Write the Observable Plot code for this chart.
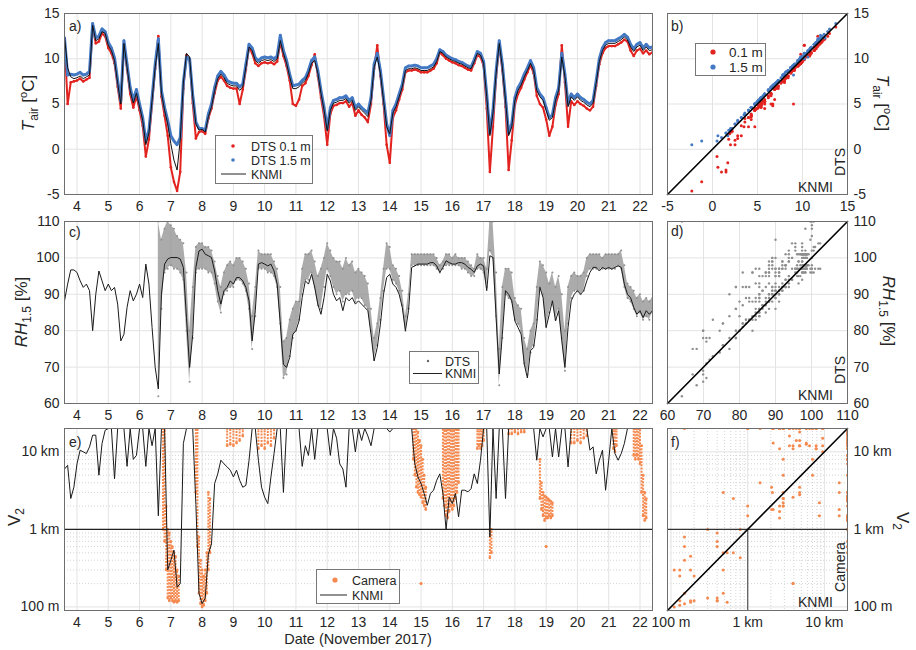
<!DOCTYPE html>
<html><head><meta charset="utf-8">
<script src="https://cdn.jsdelivr.net/npm/d3@7"></script>
<script src="https://cdn.jsdelivr.net/npm/@observablehq/plot@0.6"></script>
<style>
body{margin:0;background:#fff;}
#root{position:relative;width:916px;height:650px;overflow:hidden;font-family:"Liberation Sans",Arial,sans-serif;}
#root svg{position:absolute;}
</style></head><body><div id="root"></div>
<script>
// ---------- sampling grid (days of November 2017) ----------
const t0 = 3.6, dt = 0.1;
const dayDomain = [3.6, 22.4];
const dayTicks = [4,5,6,7,8,9,10,11,12,13,14,15,16,17,18,19,20,21,22];

// ---------- a/b) air temperature [°C] ----------
const tempRange = [-5, 15];
const tempTicks = [-5, 0, 5, 10, 15];
const knmiT = [
 12.5, 9.0, 8.0, 7.8, 7.9, 8.1, 7.8, 8.0, 8.2, 13.7,
 12.0, 12.2, 13.0, 12.8, 11.5, 10.9, 9.8, 7.3, 5.0, 11.7,
 9.1, 6.5, 5.1, 6.2, 4.7, 3.2, 0.5, 1.8, 5.4, 9.1,
 11.7, 6.2, 4.3, 2.8, 0.6, -1.2, -2.3, 1.0, 7.3, 10.6,
 10.2, 5.8, 2.8, 2.1, 2.2, 1.9, 3.6, 4.7, 6.5, 7.8,
 8.3, 7.9, 7.3, 7.1, 7.0, 7.0, 6.5, 6.9, 9.1, 11.3,
 10.9, 9.8, 9.5, 9.8, 9.9, 9.8, 9.9, 9.7, 10.0, 12.0,
 10.6, 9.5, 8.0, 6.7, 6.7, 6.9, 7.3, 7.6, 8.4, 9.5,
 9.8, 8.4, 6.2, 4.3, 2.0, 4.3, 5.1, 5.2, 5.4, 5.4,
 5.6, 5.1, 5.4, 4.3, 4.7, 4.3, 4.0, 3.6, 5.4, 9.1,
 10.2, 8.4, 5.4, 2.5, 1.7, 4.0, 4.7, 5.8, 6.9, 8.7,
 8.9, 8.9, 9.0, 8.9, 8.7, 8.7, 8.7, 8.9, 9.1, 9.7,
 10.8, 10.6, 10.2, 10.0, 9.8, 9.7, 9.5, 9.4, 9.2, 9.0,
 8.9, 9.7, 10.6, 10.4, 9.5, 5.8, 1.5, 4.0, 8.4, 11.7,
 9.1, 5.4, 1.5, 2.5, 5.4, 6.5, 7.1, 8.0, 8.7, 9.5,
 8.7, 6.5, 5.8, 5.4, 4.3, 3.2, 3.5, 5.4, 6.5, 10.2,
 8.0, 4.7, 5.8, 5.4, 5.8, 5.4, 5.2, 4.9, 4.7, 5.1,
 7.3, 9.7, 10.9, 11.5, 11.7, 11.7, 11.7, 11.9, 12.1, 12.4,
 12.1, 11.3, 10.8, 11.3, 11.5, 10.9, 11.3, 10.9, 11.0];
const dts15T = [
 12.3, 8.2, 8.3, 8.2, 8.3, 8.5, 8.2, 8.3, 8.6, 13.9,
 12.3, 12.5, 13.3, 13.0, 11.8, 11.2, 10.1, 7.6, 5.3, 12.0,
 9.4, 6.8, 5.4, 6.6, 5.0, 3.5, 0.9, 2.1, 5.7, 9.4,
 12.2, 6.5, 4.6, 3.2, 1.5, 0.9, 0.5, 1.3, 7.4, 10.2,
 10.0, 6.0, 3.0, 2.3, 2.3, 2.1, 3.9, 5.0, 6.8, 8.1,
 8.6, 8.2, 7.6, 7.4, 7.3, 7.3, 6.9, 7.2, 9.4, 11.6,
 11.2, 10.1, 9.8, 10.1, 10.2, 10.1, 10.2, 10.0, 10.3, 12.6,
 10.9, 9.8, 8.3, 7.0, 7.1, 7.2, 7.6, 7.9, 8.7, 9.8,
 10.2, 8.7, 6.5, 4.6, 2.3, 4.6, 5.4, 5.5, 5.7, 5.7,
 5.9, 5.4, 5.7, 4.6, 5.0, 4.6, 4.3, 4.0, 5.7, 9.4,
 10.6, 8.7, 5.7, 2.8, 1.5, 4.3, 5.0, 6.1, 7.2, 9.0,
 9.2, 9.2, 9.3, 9.2, 9.0, 9.0, 9.0, 9.2, 9.4, 10.0,
 11.0, 10.8, 10.4, 10.2, 10.0, 9.9, 9.7, 9.6, 9.4, 9.2,
 9.1, 9.9, 10.8, 10.6, 9.7, 6.1, 1.8, 4.3, 8.7, 12.0,
 9.4, 5.7, 1.8, 2.8, 5.7, 6.8, 7.4, 8.3, 9.0, 9.8,
 9.0, 6.8, 6.1, 5.7, 4.6, 3.5, 3.8, 5.7, 6.8, 10.6,
 8.3, 5.0, 6.1, 5.7, 6.1, 5.7, 5.5, 5.2, 5.0, 5.4,
 7.6, 10.0, 11.2, 11.8, 12.0, 12.0, 12.0, 12.2, 12.4, 12.7,
 12.4, 11.6, 11.1, 11.6, 11.8, 11.2, 11.6, 11.2, 11.3];
const dts01T = [
 12.2, 5.0, 7.4, 7.5, 7.6, 7.8, 7.5, 7.7, 7.9, 13.5,
 11.7, 11.9, 12.8, 12.5, 11.2, 10.6, 9.5, 6.9, 4.5, 11.6,
 8.8, 6.1, 4.6, 5.9, 4.3, 2.6, -0.8, 1.1, 5.0, 8.9,
 12.5, 5.8, 3.7, 1.5, -2.0, -3.6, -4.6, -2.5, 6.7, 10.4,
 9.9, 5.1, 1.2, 1.9, 2.0, 1.7, 3.4, 4.5, 6.2, 7.6,
 8.0, 7.6, 7.0, 6.8, 6.7, 6.7, 5.0, 6.6, 8.8, 11.3,
 10.6, 9.5, 9.2, 9.5, 9.6, 9.5, 9.6, 9.4, 9.7, 11.8,
 10.3, 9.2, 7.6, 5.0, 4.8, 5.5, 7.0, 7.3, 8.1, 9.3,
 10.5, 8.1, 5.7, 3.6, 0.5, 3.9, 4.8, 4.9, 5.1, 5.1,
 5.3, 4.7, 5.1, 3.7, 4.3, 3.8, 3.5, 3.0, 5.0, 8.9,
 11.5, 8.1, 5.0, 0.5, -1.5, 3.5, 4.3, 5.5, 6.6, 8.5,
 8.7, 8.7, 8.8, 8.7, 8.5, 8.5, 8.5, 8.7, 8.9, 9.5,
 10.7, 10.4, 10.0, 9.8, 9.6, 9.5, 9.3, 9.2, 9.0, 8.8,
 8.7, 9.5, 10.4, 10.2, 9.2, 4.5, -2.5, 2.5, 7.9, 11.5,
 8.7, 4.7, -2.3, 1.0, 4.9, 6.1, 6.8, 7.7, 8.5, 9.3,
 8.4, 5.9, 5.0, 4.6, 3.3, 1.5, 2.5, 4.9, 6.1, 11.5,
 7.4, 2.5, 5.3, 4.9, 5.3, 5.0, 4.8, 4.5, 4.3, 4.7,
 7.0, 9.4, 10.6, 11.2, 11.4, 11.4, 11.4, 11.6, 11.8, 12.1,
 11.9, 10.9, 10.3, 10.9, 11.1, 10.6, 10.9, 10.5, 10.7];

// ---------- c/d) relative humidity at 1.5 m [%] ----------
const rhRange = [60, 110];
const rhTicks = [60, 70, 80, 90, 100, 110];
const knmiRH = [
 88.2, 92.8, 96.7, 96.7, 96.0, 93.7, 91.9, 92.8, 91.0, 80.0,
 90.0, 96.4, 93.7, 91.0, 92.8, 91.0, 91.9, 87.3, 77.2, 79.0,
 86.4, 91.0, 88.2, 90.0, 92.8, 89.1, 98.3, 92.8, 80.9, 69.9,
 64.0, 90.0, 98.3, 99.7, 100.1, 100.1, 100.1, 99.7, 97.4, 83.6,
 69.9, 79.0, 97.4, 101.9, 102.4, 101.0, 100.6, 100.1, 96.4, 91.0,
 87.3, 91.0, 91.9, 93.7, 92.8, 94.6, 94.6, 93.7, 91.9, 88.2,
 77.2, 85.5, 98.3, 98.7, 98.3, 97.8, 98.3, 96.4, 92.8, 81.8,
 70.8, 69.9, 72.6, 79.0, 80.0, 82.7, 89.1, 93.7, 92.8, 95.5,
 91.9, 87.3, 84.5, 89.1, 95.5, 93.7, 90.0, 88.2, 89.1, 85.5,
 89.1, 88.2, 89.1, 87.3, 88.2, 87.3, 86.4, 85.5, 79.0, 71.7,
 75.4, 81.8, 90.0, 94.6, 95.5, 92.8, 91.9, 90.0, 86.4, 80.0,
 85.5, 97.4, 97.8, 98.3, 98.3, 98.3, 98.3, 98.7, 98.7, 97.8,
 96.0, 97.4, 99.2, 98.7, 98.3, 98.3, 98.7, 98.7, 98.3, 97.4,
 96.9, 96.0, 97.8, 98.3, 97.8, 91.0, 100.6, 100.1, 83.6, 68.1,
 79.0, 91.0, 90.0, 88.2, 82.7, 80.9, 79.0, 70.8, 67.0, 74.5,
 75.4, 81.8, 91.9, 89.1, 80.9, 84.5, 88.2, 82.7, 85.5, 77.2,
 69.9, 80.9, 88.2, 90.0, 91.0, 90.0, 91.0, 93.7, 96.0, 97.4,
 97.4, 96.4, 97.4, 96.9, 97.4, 96.9, 97.4, 97.8, 97.4, 92.8,
 90.0, 89.1, 86.4, 84.5, 85.5, 83.6, 85.5, 84.5, 85.5];
const dtsRHstart = 6.6;   // DTS humidity starts here
const dtsRHlo = [
 62, 86, 96, 97, 98, 97, 97, 96, 94, 80,
 66, 78, 96, 97, 97, 97, 96, 96, 93, 88,
 85, 90, 91, 92, 92, 94, 94, 93, 91, 86,
 75, 84, 97, 97, 97, 96, 96, 95, 92, 82,
 67, 68, 73, 78, 80, 83, 90, 94, 94, 96,
 92, 87, 86, 92, 97, 95, 92, 90, 91, 88,
 90, 90, 91, 88, 89, 89, 87, 86, 80, 72,
 76, 83, 91, 97, 97, 94, 93, 91, 87, 80,
 86, 98, 98, 98, 98, 98, 98, 98, 98, 97,
 96, 97, 98, 98, 98, 98, 98, 97, 97, 96,
 95, 95, 97, 97, 96, 92, 102, 100, 84, 65,
 78, 90, 89, 88, 83, 82, 80, 71, 68, 74,
 76, 83, 92, 90, 81, 85, 88, 83, 86, 78,
 69, 82, 89, 91, 91, 90, 91, 95, 97, 97,
 97, 97, 97, 97, 97, 97, 97, 98, 97, 92,
 89, 88, 86, 84, 85, 83, 84, 83, 85];
const dtsRHhi = [
 110, 105, 108, 110, 109, 108, 106, 105, 104, 96,
 80, 92, 103, 104, 104, 103, 103, 102, 99, 95,
 92, 96, 98, 99, 98, 100, 100, 99, 97, 93,
 84, 92, 102, 101, 101, 101, 101, 99, 97, 92,
 77, 78, 83, 86, 88, 88, 97, 101, 101, 102,
 99, 95, 97, 100, 104, 102, 100, 99, 99, 97,
 100, 98, 99, 96, 97, 96, 95, 93, 86, 78,
 82, 89, 97, 104, 103, 98, 97, 95, 91, 84,
 90, 101, 101, 101, 101, 101, 101, 101, 101, 100,
 98, 99, 101, 101, 100, 101, 100, 100, 100, 99,
 98, 97, 101, 100, 100, 97, 110, 110, 96, 75,
 92, 97, 97, 96, 89, 87, 86, 78, 75, 80,
 82, 92, 99, 98, 96, 93, 96, 92, 95, 90,
 80, 92, 95, 96, 95, 95, 96, 100, 101, 101,
 101, 101, 100, 101, 101, 101, 101, 101, 102, 98,
 93, 92, 91, 89, 90, 88, 89, 88, 89];

// ---------- e/f) visibility V2 [m] ----------
const visRange = [90, 20000];
const visTicks = [100, 1000, 10000];
const visTickLabels = ["100 m", "1 km", "10 km"];
const visMinor = [200,300,400,500,600,700,800,900,2000,3000,4000,5000,6000,7000,8000,9000,20000];
const visThreshold = 1000;
const knmiV = [
 6000, 6700, 2500, 3500, 7000, 10500, 10000, 9500, 11600, 16400,
 16400, 5000, 12800, 19000, 20000, 20000, 4500, 20000, 20000, 20000,
 6500, 20000, 8000, 9000, 20000, 20000, 6500, 20000, 12000, 20000,
 1500, 20000, 20000, 300, 400, 540, 180, 200, 12800, 20000,
 20000, 20000, 2100, 150, 110, 130, 480, 650, 3900, 5200,
 7800, 7000, 6400, 5800, 4750, 5800, 4300, 3500, 3700, 7800,
 20000, 20000, 7800, 3500, 2600, 2150, 4750, 9500, 20000, 20000,
 3000, 20000, 20000, 20000, 20000, 20000, 6500, 12000, 9000, 20000,
 8000, 20000, 20000, 20000, 20000, 9000, 20000, 15000, 7000, 6000,
 3500, 20000, 20000, 10000, 20000, 14000, 20000, 16000, 12000, 20000,
 20000, 20000, 20000, 20000, 18000, 20000, 20000, 20000, 20000, 20000,
 20000, 20000, 7000, 4750, 3900, 2900, 2050, 2900, 3200, 4300,
 5200, 2900, 1000, 2600, 2150, 2900, 1450, 3200, 3200, 3050,
 3350, 5200, 3900, 7800, 20000, 20000, 800, 20000, 2500, 20000,
 20000, 2500, 20000, 20000, 20000, 20000, 20000, 20000, 20000, 20000,
 20000, 7800, 20000, 15600, 20000, 20000, 8600, 20000, 8600, 20000,
 20000, 6400, 20000, 20000, 20000, 20000, 20000, 20000, 10500, 11600,
 5200, 7800, 10500, 3200, 7800, 20000, 9500, 7800, 9500, 12800,
 20000, 20000, 20000, 20000, 20000, 20000, 20000, 20000, 20000];
// camera visibility: time, lower and upper edge of the point cloud
const camT = [6.75,6.8,6.85,6.9,6.95,7.0,7.05,7.1,7.15,7.2,7.25,
 7.8,7.85,7.9,7.95,8.0,8.05,8.1,8.15,8.2,8.25,
 8.8,8.9,9.0,9.1,9.2,9.3, 9.8,9.9,10.0,10.1,10.2,10.3,
 14.75,14.8,14.85,14.9,14.95,15.0,15.0,15.05,15.1,15.15,
 15.7,15.75,15.8,15.85,15.9,15.95,16.0,16.05,16.1,16.15,16.2,
 16.8,16.85,16.9,16.95,17.0, 17.2,17.25,
 17.8,17.9,18.0,18.1,18.2,18.3,
 18.8,18.85,18.9,18.95,19.0,19.0,19.05,19.1,19.15,19.2,
 19.8,19.9,20.0,20.1,20.2,20.3, 21.15,21.2,21.25,
 21.8,21.85,21.9,21.95,22.0,22.05,22.1,22.15,22.2];
const camLo = [1000,700,300,130,120,130,120,115,120,115,120,
 3000,600,150,110,100,105,120,150,300,500,
 12000,12500,12000,13000,14000,16000, 11000,12000,11000,13000,12000,15000,
 8000,5000,3500,3000,2800,2600,200,2200,2000,1800,
 2500,2000,1500,1400,1700,2000,1800,2000,2500,3000,4000,
 11000,12000,11000,12000,14000, 430,500,
 17000,17000,18000,17000,18000,18000,
 2500,1800,1500,1300,1400,600,1400,1500,1400,1500,
 13000,13000,14000,13000,15000,16000, 11000,10000,12000,
 9000,8000,9000,8000,7000,3000,1500,1300,1400];
const camHi = [20000,20000,2000,1000,900,700,600,500,450,300,250,
 20000,20000,800,400,300,250,300,500,3000,2500,
 20000,20000,20000,20000,20000,20000, 20000,20000,20000,20000,20000,20000,
 20000,20000,20000,18000,14000,12000,200,8000,5000,3500,
 20000,20000,20000,20000,20000,20000,20000,20000,20000,20000,20000,
 20000,20000,20000,20000,20000, 1000,1000,
 20000,20000,20000,20000,20000,20000,
 8000,4000,3000,2700,2600,600,2500,2400,2300,2200,
 20000,20000,20000,20000,20000,20000, 20000,20000,20000,
 20000,20000,20000,20000,20000,12000,5000,3000,2500];

// ---------- colours & fonts ----------
const RED = "#e2231f", BLUE = "#4479c4", GRAY = "#8f8f8f", ORANGE = "#f58a50";
const FONT = '"Liberation Sans", Arial, sans-serif';
const GRID = "#e3e3e3", FRAME = "#6e6e6e";

// ---------- tables ----------
const tAt = i => +(t0 + i * dt).toFixed(2);
const idxAt = t => Math.round((t - t0) / dt);
const tempRows = knmiT.map((v, i) => ({t: tAt(i), knmi: v, d15: dts15T[i], d01: dts01T[i]}));
const rhOff = idxAt(dtsRHstart);
const rhRows = knmiRH.map((v, i) => ({t: tAt(i), knmi: v,
  lo: i >= rhOff ? dtsRHlo[i - rhOff] : null, hi: i >= rhOff ? dtsRHhi[i - rhOff] : null}));
const visRows = knmiV.map((v, i) => ({t: tAt(i), v}));
const camRows = camT.map((t, i) => ({t, lo: camLo[i], hi: camHi[i], knmi: knmiV[idxAt(t)]}));
const rhScatter = rhRows.filter(r => r.lo != null).flatMap(r => [{x: r.knmi, y: r.lo}, {x: r.knmi, y: r.hi}]);
const camScatter = camRows.flatMap(r => [{x: r.knmi, y: r.lo}, {x: r.knmi, y: r.hi}]);
const diag = rng => rng.map(v => ({x: v, y: v}));

const root = document.getElementById("root");
function panel({left, top, fw, fh, mL, mR, mT = 6, mB = 24, x, y, marks}) {
  const svg = Plot.plot({
    width: mL + fw + mR, height: mT + fh + mB,
    marginLeft: mL, marginRight: mR, marginTop: mT, marginBottom: mB,
    style: {fontFamily: FONT, fontSize: "14px", color: "#262626", background: "transparent", overflow: "visible"},
    x, y, marks
  });
  svg.style.left = (left - mL) + "px";
  svg.style.top = (top - mT) + "px";
  root.append(svg);
}
const str = d => String(d);
const visFmt = d => visTickLabels[visTicks.indexOf(d)];
const xAxisDays = Plot.axisX(dayTicks, {tickSize: 0, tickPadding: 7, label: null, tickFormat: str});

// a) temperature time series
panel({left: 64, top: 13, fw: 588, fh: 181, mL: 64, mR: 4,
  x: {domain: dayDomain}, y: {domain: tempRange},
  marks: [
    Plot.gridX(dayTicks, {stroke: GRID, strokeOpacity: 1}),
    Plot.gridY(tempTicks, {stroke: GRID, strokeOpacity: 1}),
    Plot.line(tempRows, {x: "t", y: "d01", stroke: RED, strokeWidth: 2, clip: true}),
    Plot.dot(tempRows, {x: "t", y: "d01", r: 1.3, fill: RED, clip: true}),
    Plot.line(tempRows, {x: "t", y: "d15", stroke: BLUE, strokeWidth: 3, clip: true}),
    Plot.dot(tempRows, {x: "t", y: "d15", r: 1.2, fill: BLUE, clip: true}),
    Plot.line(tempRows, {x: "t", y: "knmi", stroke: "#111", strokeWidth: 1, clip: true}),
    Plot.frame({stroke: FRAME}),
    xAxisDays,
    Plot.axisY(tempTicks, {tickSize: 0, tickPadding: 5, label: null, tickFormat: str})
  ]});

// b) temperature scatter
panel({left: 667, top: 13, fw: 180, fh: 181, mL: 4, mR: 45,
  x: {domain: tempRange}, y: {domain: tempRange},
  marks: [
    Plot.gridX(tempTicks, {stroke: GRID, strokeOpacity: 1}),
    Plot.gridY(tempTicks, {stroke: GRID, strokeOpacity: 1}),
    Plot.dot(tempRows, {x: "knmi", y: "d01", r: 1.5, fill: RED, clip: true}),
    Plot.dot(tempRows, {x: "knmi", y: "d15", r: 1.5, fill: BLUE, clip: true}),
    Plot.line(diag(tempRange), {x: "x", y: "y", stroke: "#000", strokeWidth: 1.6}),
    Plot.frame({stroke: FRAME}),
    Plot.axisX(tempTicks, {tickSize: 0, tickPadding: 7, label: null, tickFormat: str}),
    Plot.axisY(tempTicks, {anchor: "right", tickSize: 0, tickPadding: 6, label: null, tickFormat: str})
  ]});

// c) humidity time series
panel({left: 64, top: 221, fw: 588, fh: 182, mL: 64, mR: 4,
  x: {domain: dayDomain}, y: {domain: rhRange},
  marks: [
    Plot.gridX(dayTicks, {stroke: GRID, strokeOpacity: 1}),
    Plot.gridY(rhTicks, {stroke: GRID, strokeOpacity: 1}),
    Plot.areaY(rhRows, {x: "t", y1: "lo", y2: "hi", fill: GRAY, fillOpacity: 0.75, clip: true}),
    Plot.dot(rhRows, {x: "t", y: "lo", r: 1, fill: GRAY, clip: true}),
    Plot.dot(rhRows, {x: "t", y: "hi", r: 1, fill: GRAY, clip: true}),
    Plot.line(rhRows, {x: "t", y: "knmi", stroke: "#1a1a1a", strokeWidth: 1, clip: true}),
    Plot.frame({stroke: FRAME}),
    xAxisDays,
    Plot.axisY(rhTicks, {tickSize: 0, tickPadding: 5, label: null, tickFormat: str})
  ]});

// d) humidity scatter
panel({left: 667, top: 221, fw: 180, fh: 182, mL: 4, mR: 45,
  x: {domain: rhRange}, y: {domain: rhRange},
  marks: [
    Plot.gridX(rhTicks, {stroke: GRID, strokeOpacity: 1}),
    Plot.gridY(rhTicks, {stroke: GRID, strokeOpacity: 1}),
    Plot.dot(rhScatter, {x: "x", y: "y", r: 1.2, fill: GRAY, clip: true}),
    Plot.line(diag(rhRange), {x: "x", y: "y", stroke: "#000", strokeWidth: 1.6}),
    Plot.frame({stroke: FRAME}),
    Plot.axisX(rhTicks, {tickSize: 0, tickPadding: 7, label: null, tickFormat: str}),
    Plot.axisY(rhTicks, {anchor: "right", tickSize: 0, tickPadding: 6, label: null, tickFormat: str})
  ]});

// e) visibility time series
panel({left: 64, top: 428, fw: 588, fh: 182, mL: 64, mR: 4,
  x: {domain: dayDomain}, y: {type: "log", domain: visRange},
  marks: [
    Plot.gridX(dayTicks, {stroke: GRID, strokeOpacity: 1}),
    Plot.gridY(visMinor, {stroke: "#d4d4d4", strokeOpacity: 1, strokeDasharray: "1 2"}),
    Plot.gridY(visTicks, {stroke: GRID, strokeOpacity: 1}),
    Plot.ruleX(camRows, {x: "t", y1: "lo", y2: "hi", stroke: ORANGE, strokeWidth: 2, strokeDasharray: "2 1.2", clip: true}),
    Plot.dot(camRows, {x: "t", y: "lo", r: 1.4, fill: ORANGE, clip: true}),
    Plot.dot(camRows, {x: "t", y: "hi", r: 1.4, fill: ORANGE, clip: true}),
    Plot.line(visRows, {x: "t", y: "v", stroke: "#1a1a1a", strokeWidth: 1, clip: true}),
    Plot.ruleY([visThreshold], {stroke: "#222", strokeWidth: 1.2}),
    Plot.frame({stroke: FRAME}),
    xAxisDays,
    Plot.axisY(visTicks, {tickSize: 0, tickPadding: 5, label: null, tickFormat: visFmt})
  ]});

// f) visibility scatter
panel({left: 667, top: 428, fw: 180, fh: 182, mL: 4, mR: 45,
  x: {type: "log", domain: visRange}, y: {type: "log", domain: visRange},
  marks: [
    Plot.gridX(visMinor, {stroke: "#d4d4d4", strokeOpacity: 1, strokeDasharray: "1 2"}),
    Plot.gridY(visMinor, {stroke: "#d4d4d4", strokeOpacity: 1, strokeDasharray: "1 2"}),
    Plot.gridX(visTicks, {stroke: GRID, strokeOpacity: 1}),
    Plot.gridY(visTicks, {stroke: GRID, strokeOpacity: 1}),
    Plot.dot(camScatter, {x: "x", y: "y", r: 1.5, fill: ORANGE, clip: true}),
    Plot.ruleY([visThreshold], {stroke: "#333", strokeWidth: 1.2}),
    Plot.ruleX([{x: visThreshold, y1: visRange[0], y2: visThreshold}], {x: "x", y1: "y1", y2: "y2", stroke: "#555", strokeWidth: 1.2}),
    Plot.line(diag(visRange), {x: "x", y: "y", stroke: "#000", strokeWidth: 1.6}),
    Plot.frame({stroke: FRAME}),
    Plot.axisX(visTicks, {tickSize: 0, tickPadding: 7, label: null, tickFormat: visFmt}),
    Plot.axisY(visTicks, {anchor: "right", tickSize: 0, tickPadding: 6, label: null, tickFormat: visFmt})
  ]});

// ---------- overlay: titles, annotations, legends ----------
const ov = d3.select(root).append("svg").attr("width", 916).attr("height", 650)
  .style("left", "0px").style("top", "0px").style("pointer-events", "none")
  .attr("font-family", FONT).attr("fill", "#262626");

function rich(x, y, rot, parts, size, anchor = "middle") {
  const t = ov.append("text").attr("transform", `translate(${x},${y}) rotate(${rot})`)
    .attr("text-anchor", anchor).attr("font-size", size);
  parts.forEach(p => t.append("tspan").attr("font-style", p.it ? "italic" : null)
    .attr("font-size", p.fs || null).attr("dy", p.dy || 0).text(p.s));
}
const tLab = [{s: "T", it: true}, {s: "air", fs: 12, dy: 4}, {s: "\u00a0[", dy: -4}, {s: "o", fs: 11, dy: -7}, {s: "C]", dy: 7}];
const rhLab = [{s: "RH", it: true}, {s: "1.5", fs: 12, dy: 4}, {s: "\u00a0[%]", dy: -4}];
const vLab = [{s: "V"}, {s: "2", fs: 12, dy: 4}];
rich(34, 103, -90, tLab, 17);
rich(27, 312, -90, rhLab, 17);
rich(20, 517, -90, vLab, 17);
rich(877, 103, 90, tLab, 17);
rich(883, 311, 90, rhLab, 17);
rich(897, 521, 90, vLab, 17);
rich(358, 644, 0, [{s: "Date (November 2017)"}], 14.5);

[["a)", 69, 31], ["b)", 671, 31], ["c)", 69, 237], ["d)", 671, 236], ["e)", 69, 447], ["f)", 671, 447]]
  .forEach(([s, x, y]) => rich(x, y, 0, [{s}], 14, "start"));
[[192], [400], [607]].forEach(([y]) => rich(815.5, y, 0, [{s: "KNMI"}], 14));
rich(845, 162, -90, [{s: "DTS"}], 14);
rich(845, 370, -90, [{s: "DTS"}], 14);
rich(845, 567, -90, [{s: "Camera"}], 14);

function box(x, y, w, h) {
  ov.append("rect").attr("x", x + 0.5).attr("y", y + 0.5).attr("width", w).attr("height", h)
    .attr("fill", "#fff").attr("stroke", "#777");
}
const dotK = (x, y, r, c) => ov.append("circle").attr("cx", x).attr("cy", y).attr("r", r).attr("fill", c);
const lineK = (x1, x2, y, c) => ov.append("line").attr("x1", x1).attr("x2", x2).attr("y1", y).attr("y2", y).attr("stroke", c).attr("stroke-width", 1);
// legend a
box(215, 135, 97, 48);
dotK(233, 146, 1.8, RED); rich(251, 150.5, 0, [{s: "DTS 0.1 m"}], 12.5, "start");
dotK(233, 160, 1.8, BLUE); rich(251, 164.5, 0, [{s: "DTS 1.5 m"}], 12.5, "start");
lineK(221, 246, 174, "#222"); rich(251, 178.5, 0, [{s: "KNMI"}], 12.5, "start");
// legend b
box(695, 43, 70, 32);
dotK(713, 52, 2.6, RED); rich(729, 56.5, 0, [{s: "0.1 m"}], 13.5, "start");
dotK(713, 67, 2.6, BLUE); rich(729, 71.5, 0, [{s: "1.5 m"}], 13.5, "start");
// legend c
box(409, 351, 69, 32);
dotK(428, 361, 1.2, "#666"); rich(445, 365.5, 0, [{s: "DTS"}], 12.5, "start");
lineK(413, 442, 373.5, "#222"); rich(445, 378, 0, [{s: "KNMI"}], 12.5, "start");
// legend e
box(316, 569, 83, 34);
dotK(335, 580, 2.6, ORANGE); rich(352, 584.5, 0, [{s: "Camera"}], 12.5, "start");
lineK(320, 347, 595, "#222"); rich(352, 599.5, 0, [{s: "KNMI"}], 12.5, "start");
</script></body></html>
